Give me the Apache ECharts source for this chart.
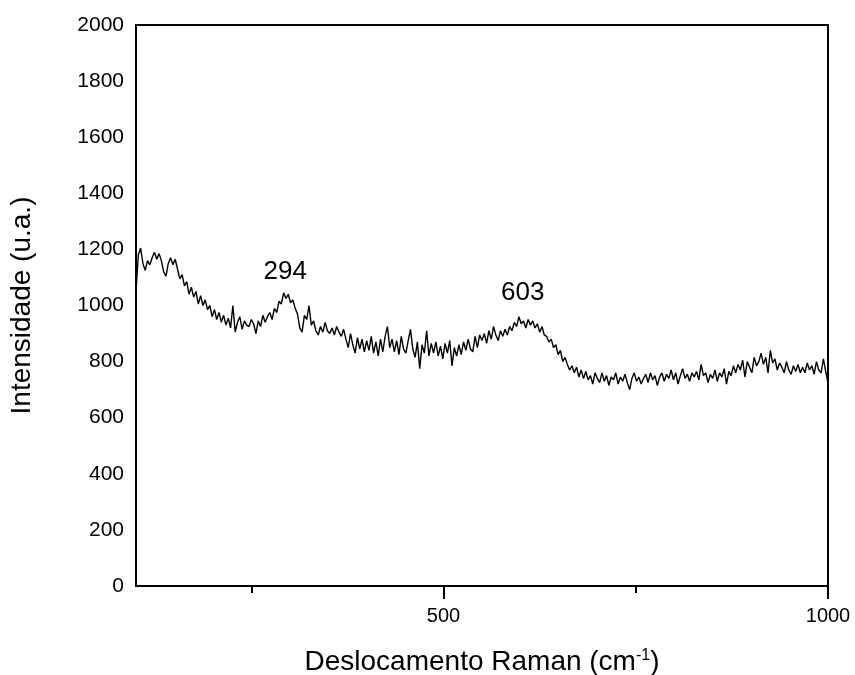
<!DOCTYPE html>
<html>
<head>
<meta charset="utf-8">
<script src="https://cdn.jsdelivr.net/npm/echarts@6/dist/echarts.min.js"></script>
<style>
  html, body { margin: 0; padding: 0; background: #fff; }
  #chart { width: 855px; height: 675px; }
</style>
</head>
<body>
<div id="chart"></div>
<script>
// Raman shift axis: one reading every 3 cm-1 from 100 to 1000
const shiftStart = 100;
const shiftStep = 3;

// Intensity readings (u.a.), ten per row
const intensity = [
  1050, 1180, 1205, 1150, 1125, 1160, 1145, 1170, 1190, 1165,
  1185, 1160, 1120, 1105, 1150, 1170, 1145, 1165, 1130, 1095,
  1110, 1070, 1085, 1040, 1065, 1030, 1050, 1005, 1035, 1000,
  1020, 985, 1000, 960, 985, 950, 975, 940, 965, 930,
  955, 920, 1000, 905, 940, 960, 915, 945, 930, 925,
  950, 935, 900, 945, 925, 965, 940, 960, 975, 950,
  990, 975, 1015, 1005, 1045, 1025, 1040, 1010, 1020, 990,
  970, 920, 905, 965, 950, 1000, 930, 945, 910, 895,
  925, 905, 940, 910, 900, 920, 895, 925, 905, 890,
  915, 880, 850, 900, 860, 830, 885, 845, 880, 835,
  875, 840, 890, 830, 870, 820, 880, 835, 890, 925,
  850, 880, 835, 875, 825, 890, 845, 830, 875, 915,
  845, 815, 870, 775, 860, 830, 910, 820, 865, 830,
  870, 820, 855, 810, 865, 830, 875, 785, 850, 820,
  860, 825, 870, 840, 880, 845, 835, 890, 850, 895,
  875, 900, 865, 910, 880, 925, 895, 875, 910, 890,
  915, 895, 925, 910, 940, 925, 960, 935, 945, 920,
  950, 930, 945, 920, 935, 905, 925, 895, 890, 870,
  880, 850, 860, 825, 840, 800, 815, 790, 770, 785,
  760, 780, 745, 770, 740, 765, 735, 750, 720, 760,
  740, 725, 760, 730, 750, 715, 745, 735, 760, 720,
  745, 730, 755, 725, 700, 740, 760, 730, 745, 720,
  740, 755, 725, 760, 735, 750, 715, 745, 760, 730,
  755, 740, 770, 735, 760, 720, 750, 775, 740, 755,
  730, 760, 745, 765, 735, 790, 750, 760, 725, 755,
  740, 770, 730, 760, 745, 775, 720, 765, 750, 785,
  760, 790, 770, 805, 745, 800, 780, 760, 815, 785,
  800, 830, 790, 815, 760, 840, 795, 810, 770, 795,
  780, 760, 800, 770, 755, 785, 765, 790, 760, 780,
  760, 795, 770, 785, 755, 800, 770, 760, 810, 765,
  725
];

// Labelled bands: [shift, label height]
const peakLabels = [
  [294, 1120],
  [603, 1045]
];

const yTicks = [0, 200, 400, 600, 800, 1000, 1200, 1400, 1600, 1800, 2000];
const xMajorTicks = [500, 1000];
const xMinorTicks = [250, 750];

const spectrum = intensity.map((v, i) => [shiftStart + i * shiftStep, v]);

const FONT = '"Liberation Sans", Arial, sans-serif';
const chart = echarts.init(document.getElementById('chart'), null, { renderer: 'canvas' });

chart.setOption({
  animation: false,
  backgroundColor: '#ffffff',
  textStyle: { fontFamily: FONT },
  grid: {
    left: 136, right: 27, top: 25, bottom: 89,
    outerBoundsMode: 'none',
    containLabel: false,
    show: true, borderColor: '#000', borderWidth: 2,
    backgroundColor: 'transparent'
  },
  xAxis: [
    {
      type: 'value', min: 100, max: 1000,
      name: 'Deslocamento Raman (cm{sup|-1})',
      nameLocation: 'middle', nameGap: 62,
      nameTextStyle: {
        fontSize: 28, color: '#000', fontFamily: FONT,
        rich: { sup: { fontSize: 16, verticalAlign: 'top', padding: [0, 0, 12, 0], color: '#000' } }
      },
      axisLine: { show: true, onZero: false, lineStyle: { color: '#000', width: 2 } },
      axisTick: { show: true, customValues: xMajorTicks, length: 13, lineStyle: { color: '#000', width: 2 } },
      axisLabel: {
        show: true, customValues: xMajorTicks, fontSize: 20, color: '#000', margin: 20, fontFamily: FONT,
        formatter: v => String(v)
      },
      splitLine: { show: false }
    },
    {
      type: 'value', min: 100, max: 1000, position: 'bottom',
      axisLine: { show: false },
      axisTick: { show: true, customValues: xMinorTicks, length: 7, lineStyle: { color: '#000', width: 2 } },
      axisLabel: { show: false },
      splitLine: { show: false }
    }
  ],
  yAxis: {
    type: 'value', min: 0, max: 2000, interval: 200,
    name: 'Intensidade (u.a.)',
    nameLocation: 'middle', nameGap: 100, nameRotate: 90,
    nameTextStyle: { fontSize: 28, color: '#000', fontFamily: FONT },
    axisLine: { show: true, lineStyle: { color: '#000', width: 2 } },
    axisTick: { show: false },
    axisLabel: {
      fontSize: 21, color: '#000', margin: 12, fontFamily: FONT,
      formatter: v => (yTicks.indexOf(v) >= 0 ? String(v) : '')
    },
    splitLine: { show: false }
  },
  series: [
    {
      type: 'line',
      data: spectrum,
      showSymbol: false,
      symbol: 'none',
      lineStyle: { color: '#000', width: 1.4 },
      clip: true,
      markPoint: {
        symbol: 'circle', symbolSize: 0,
        label: {
          show: true, position: 'inside', fontSize: 26, color: '#000', fontFamily: FONT,
          formatter: p => String(p.data.coord[0])
        },
        data: peakLabels.map(p => ({ coord: p }))
      }
    }
  ]
});
</script>
</body>
</html>
